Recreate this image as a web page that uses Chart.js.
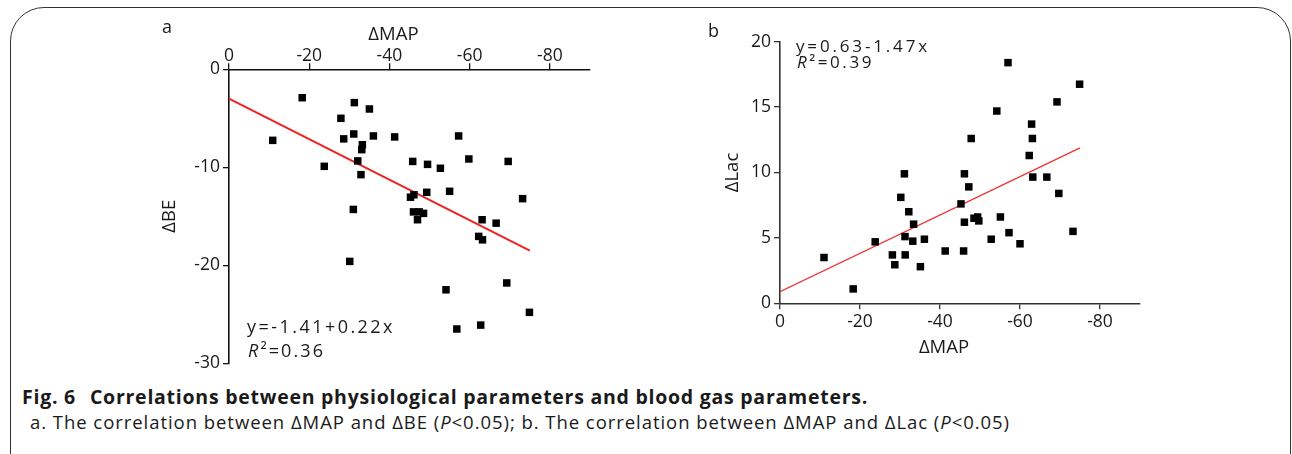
<!DOCTYPE html>
<html>
<head>
<meta charset="utf-8">
<title>Fig. 6</title>
<script src="https://cdn.jsdelivr.net/npm/chart.js@4"></script>
<style>
  html, body { margin: 0; padding: 0; background: #fff; }
  #fig { position: relative; width: 1292px; height: 454px; overflow: hidden;
         font-family: "Open Sans", sans-serif; color: #1a1a1a; }
  #frame { position: absolute; left: 10px; top: 7px; width: 1281px; height: 480px;
           border: 1.5px solid #333; border-radius: 34px; box-sizing: border-box; }
  canvas { position: absolute; top: 0; }
  .t { position: absolute; white-space: nowrap; line-height: 1; }
  .cap1 { font-weight: 700; font-size: 19.5px; }
  .cap2 { font-size: 18.5px; }
</style>
</head>
<body>
<div id="fig">
  <div id="frame"></div>
  <canvas id="chartA" width="640" height="380" style="left:0;width:640px;height:380px"></canvas>
  <canvas id="chartB" width="652" height="380" style="left:640px;width:652px;height:380px"></canvas>

  <div class="t" style="left:162px;top:17px;font-size:18px">a</div>
  <div class="t" style="left:708px;top:21px;font-size:18px">b</div>

  <div class="t" id="xTitleA" style="top:24px;font-size:18.5px">ΔMAP</div>
  <div class="t" id="xTitleB" style="top:337px;font-size:18.5px">ΔMAP</div>

  <div class="t fit" data-w="148" style="left:247px;top:316.7px;font-size:18px">y=-1.41+0.22x</div>
  <div class="t fit" data-w="77" style="left:248px;top:340.7px;font-size:18px"><i>R</i>²=0.36</div>
  <div class="t fit" data-w="134" style="left:796px;top:36.7px;font-size:17px">y=0.63-1.47x</div>
  <div class="t fit" data-w="77" style="left:797px;top:53px;font-size:17px"><i>R</i>²=0.39</div>

  <div class="t cap1 fit" data-w="846" style="left:22px;top:386.7px"><span style="margin-right:14px">Fig. 6</span>Correlations between physiological parameters and blood gas parameters.</div>
  <div class="t cap2 fit" data-w="980" style="left:30px;top:412.8px">a. The correlation between ΔMAP and ΔBE (<i>P</i>&lt;0.05); b. The correlation between ΔMAP and ΔLac (<i>P</i>&lt;0.05)</div>
</div>

<script>
// ΔMAP vs ΔBE (panel a)
const mapA = [-18.25, -31.25, -35, -27.9, -10.9, -28.6, -31.1, -36, -41.3, -57.25,
              -33.25, -33.1, -32.1, -23.75, -32.9, -45.8, -49.5, -52.7, -59.8, -69.6,
              -45.25, -46.1, -49.3, -55, -73.2, -31, -46, -47.4, -48.5, -47,
              -63.1, -66.6, -62.25, -63.2, -30.1, -54.1, -69.25, -74.9, -56.8, -62.75];
const beA  = [-2.9, -3.4, -4.05, -5.0, -7.25, -7.1, -6.6, -6.8, -6.9, -6.8,
              -7.7, -8.2, -9.35, -9.9, -10.75, -9.4, -9.7, -10.1, -9.15, -9.4,
              -13.05, -12.8, -12.55, -12.45, -13.2, -14.3, -14.55, -14.55, -14.7, -15.35,
              -15.35, -15.7, -17.05, -17.4, -19.6, -22.5, -21.8, -24.8, -26.5, -26.1];

// ΔMAP vs ΔLac (panel b)
const mapB = [-57, -74.9, -69.25, -54.2, -62.9, -47.8, -63.1, -62.3, -31.1, -46.1,
              -63.2, -66.7, -47.2, -69.7, -30.2, -32.2, -45.25, -46.1, -48.5, -49.4,
              -49.7, -55.1, -33.4, -73.25, -57.25, -31.25, -23.8, -33.2, -36.1, -52.8,
              -60, -41.3, -45.9, -11, -28.1, -31.3, -28.7, -35.1, -18.3];
const lacB = [18.4, 16.75, 15.4, 14.7, 13.7, 12.6, 12.6, 11.3, 9.9, 9.9,
              9.65, 9.65, 8.9, 8.4, 8.1, 7.0, 7.6, 6.2, 6.5, 6.6,
              6.3, 6.6, 6.05, 5.5, 5.4, 5.1, 4.7, 4.75, 4.9, 4.9,
              4.55, 4.0, 4.0, 3.5, 3.7, 3.7, 2.95, 2.8, 1.1];

// Fitted regression lines (end points)
const fitAx = [0, -75];
const fitAy = [-3.0, -18.5];
const fitBx = [0, -75];
const fitBy = [0.89, 11.88];

// Tick values
const mapTicks = [0, -20, -40, -60, -80];
const beTicks  = [0, -10, -20, -30];
const lacTicks = [0, 5, 10, 15, 20];

Chart.defaults.font.family = '"Open Sans", sans-serif';
Chart.defaults.color = '#1a1a1a';

const pts = (xs, ys) => xs.map((x, i) => ({ x, y: ys[i] }));
const setTicks = vals => scale => { scale.ticks = vals.map(v => ({ value: v })); };

function axisStyle(color) {
  return {
    grid: { display: true, drawOnChartArea: false, drawTicks: true, tickLength: 6,
            color: color, lineWidth: 1.3 },
    border: { display: true, color: color, width: 1.6 },
  };
}

function scatterSets(xs, ys, fx, fy, lineColor, lineWidth) {
  return [
    { type: 'scatter', data: pts(xs, ys), pointStyle: 'rect', pointRadius: 5.3,
      backgroundColor: '#000', borderWidth: 0, clip: false },
    { type: 'line', data: pts(fx, fy), borderColor: lineColor, borderWidth: lineWidth,
      pointRadius: 0, fill: false, tension: 0 }
  ];
}

const common = {
  responsive: false,
  animation: false,
  events: [],
  plugins: { legend: { display: false }, tooltip: { enabled: false } },
};

const tickFont = { size: 17.5 };

const chartA = new Chart(document.getElementById('chartA'), {
  type: 'scatter',
  data: { datasets: scatterSets(mapA, beA, fitAx, fitAy, '#ee2222', 2) },
  options: Object.assign({}, common, {
    layout: { padding: { left: 159, top: 39.3, right: 50, bottom: 16.7 } },
    scales: {
      x: Object.assign(axisStyle('#111'), {
        type: 'linear', position: 'top', reverse: true, min: -90, max: 0,
        afterBuildTicks: setTicks(mapTicks),
        afterFit: s => { s.height = 30; },
        ticks: { font: tickFont, padding: -3, maxRotation: 0, autoSkip: false }
      }),
      y: Object.assign(axisStyle('#111'), {
        type: 'linear', min: -30, max: 0,
        afterBuildTicks: setTicks(beTicks),
        afterFit: s => { s.width = 70; },
        ticks: { font: tickFont, padding: 3 },
        title: { display: true, text: 'ΔBE', font: { size: 18.5 }, padding: 0 }
      })
    }
  })
});

const chartB = new Chart(document.getElementById('chartB'), {
  type: 'scatter',
  data: { datasets: scatterSets(mapB, lacB, fitBx, fitBy, '#f03535', 1.4) },
  options: Object.assign({}, common, {
    layout: { padding: { left: 82, top: 41.7, right: 152, bottom: 36.7 } },
    scales: {
      x: Object.assign(axisStyle('#333'), {
        type: 'linear', position: 'bottom', reverse: true, min: -90, max: 0,
        afterBuildTicks: setTicks(mapTicks),
        afterFit: s => { s.height = 40; },
        ticks: { font: tickFont, padding: 2, maxRotation: 0, autoSkip: false }
      }),
      y: Object.assign(axisStyle('#333'), {
        type: 'linear', min: 0, max: 20,
        afterBuildTicks: setTicks(lacTicks),
        afterFit: s => { s.width = 58; },
        ticks: { font: tickFont, padding: 3 },
        title: { display: true, text: 'ΔLac', font: { size: 18.5 }, padding: 0 }
      })
    }
  })
});

// Centre the x-axis titles over the chosen x value
function placeTitle(id, chart, offsetLeft, centerValue) {
  const el = document.getElementById(id);
  const cx = chart.scales.x.getPixelForValue(centerValue) + offsetLeft;
  el.style.left = (cx - el.getBoundingClientRect().width / 2) + 'px';
}

// Spread text out to its column width
function fitText() {
  document.querySelectorAll('.fit').forEach(el => {
    el.style.letterSpacing = '0px';
    const w = el.getBoundingClientRect().width;
    const n = el.textContent.length;
    const target = parseFloat(el.dataset.w);
    el.style.letterSpacing = ((target - w) / n) + 'px';
  });
  placeTitle('xTitleA', chartA, 0, -41);
  placeTitle('xTitleB', chartB, 640, -41);
}
fitText();
if (document.fonts && document.fonts.ready) document.fonts.ready.then(fitText);
</script>
</body>
</html>
